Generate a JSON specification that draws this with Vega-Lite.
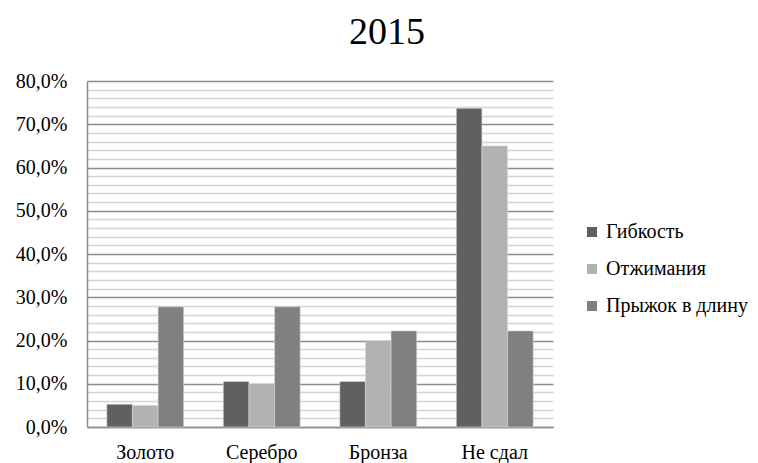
{
  "$schema": "https://vega.github.io/schema/vega-lite/v6.json",
  "width": 466,
  "height": 346,
  "autosize": "none",
  "padding": {"left": 87, "top": 81, "right": 205, "bottom": 36},
  "background": "white",
  "title": {
    "text": "2015",
    "font": "Liberation Serif",
    "fontSize": 38,
    "fontWeight": "normal",
    "color": "#000000",
    "anchor": "middle",
    "dx": 67,
    "offset": 19
  },
  "data": {
    "values": [
      {"cat": "Золото", "test": "Гибкость", "v": 0.0526},
      {"cat": "Золото", "test": "Отжимания", "v": 0.05},
      {"cat": "Золото", "test": "Прыжок в длину", "v": 0.2778},
      {"cat": "Серебро", "test": "Гибкость", "v": 0.1053},
      {"cat": "Серебро", "test": "Отжимания", "v": 0.10},
      {"cat": "Серебро", "test": "Прыжок в длину", "v": 0.2778},
      {"cat": "Бронза", "test": "Гибкость", "v": 0.1053},
      {"cat": "Бронза", "test": "Отжимания", "v": 0.20},
      {"cat": "Бронза", "test": "Прыжок в длину", "v": 0.2222},
      {"cat": "Не сдал", "test": "Гибкость", "v": 0.7368},
      {"cat": "Не сдал", "test": "Отжимания", "v": 0.65},
      {"cat": "Не сдал", "test": "Прыжок в длину", "v": 0.2222}
    ]
  },
  "mark": {"type": "bar", "stroke": "#d8d8d8", "strokeWidth": 0.6},
  "encoding": {
    "x": {
      "field": "cat",
      "type": "nominal",
      "sort": ["Золото", "Серебро", "Бронза", "Не сдал"],
      "scale": {"paddingInner": 0.34, "paddingOuter": 0.17},
      "axis": {
        "title": null,
        "labelAngle": 0,
        "labelPadding": 15,
        "labelFont": "Liberation Serif",
        "labelFontSize": 20,
        "labelColor": "#000000",
        "ticks": false,
        "domainColor": "#8c8c8c",
        "domainWidth": 1.5,
        "grid": false
      }
    },
    "xOffset": {
      "field": "test",
      "type": "nominal",
      "sort": ["Гибкость", "Отжимания", "Прыжок в длину"]
    },
    "y": {
      "field": "v",
      "type": "quantitative",
      "scale": {"domain": [0, 0.8], "nice": false},
      "axis": {
        "title": null,
        "values": [0,0.02,0.04,0.06,0.08,0.1,0.12,0.14,0.16,0.18,0.2,0.22,0.24,0.26,0.28,0.3,0.32,0.34,0.36,0.38,0.4,0.42,0.44,0.46,0.48,0.5,0.52,0.54,0.56,0.58,0.6,0.62,0.64,0.66,0.68,0.7,0.72,0.74,0.76,0.78,0.8],
        "labelExpr": "round(datum.value*100) % 10 === 0 ? replace(format(datum.value, '.1%'), '.', ',') : ''",
        "labelOverlap": false,
        "labelPadding": 20,
        "labelFont": "Liberation Serif",
        "labelFontSize": 20,
        "labelColor": "#000000",
        "ticks": false,
        "domainColor": "#8c8c8c",
        "domainWidth": 1.5,
        "grid": true,
        "gridColor": {
          "condition": {"test": "round(datum.value*100) % 10 === 0", "value": "#8c8c8c"},
          "value": "#d4d4d4"
        },
        "gridWidth": 1.5
      }
    },
    "color": {
      "field": "test",
      "type": "nominal",
      "sort": ["Гибкость", "Отжимания", "Прыжок в длину"],
      "scale": {
        "domain": ["Гибкость", "Отжимания", "Прыжок в длину"],
        "range": ["#606060", "#b2b2b2", "#808080"]
      },
      "legend": {
        "title": null,
        "orient": "none",
        "legendX": 495,
        "legendY": 141,
        "symbolType": "square",
        "symbolSize": 100,
        "symbolStrokeWidth": 0,
        "labelFont": "Liberation Serif",
        "labelFontSize": 20,
        "labelColor": "#000000",
        "labelOffset": 4,
        "rowPadding": 17
      }
    }
  },
  "config": {
    "view": {"stroke": null}
  }
}
